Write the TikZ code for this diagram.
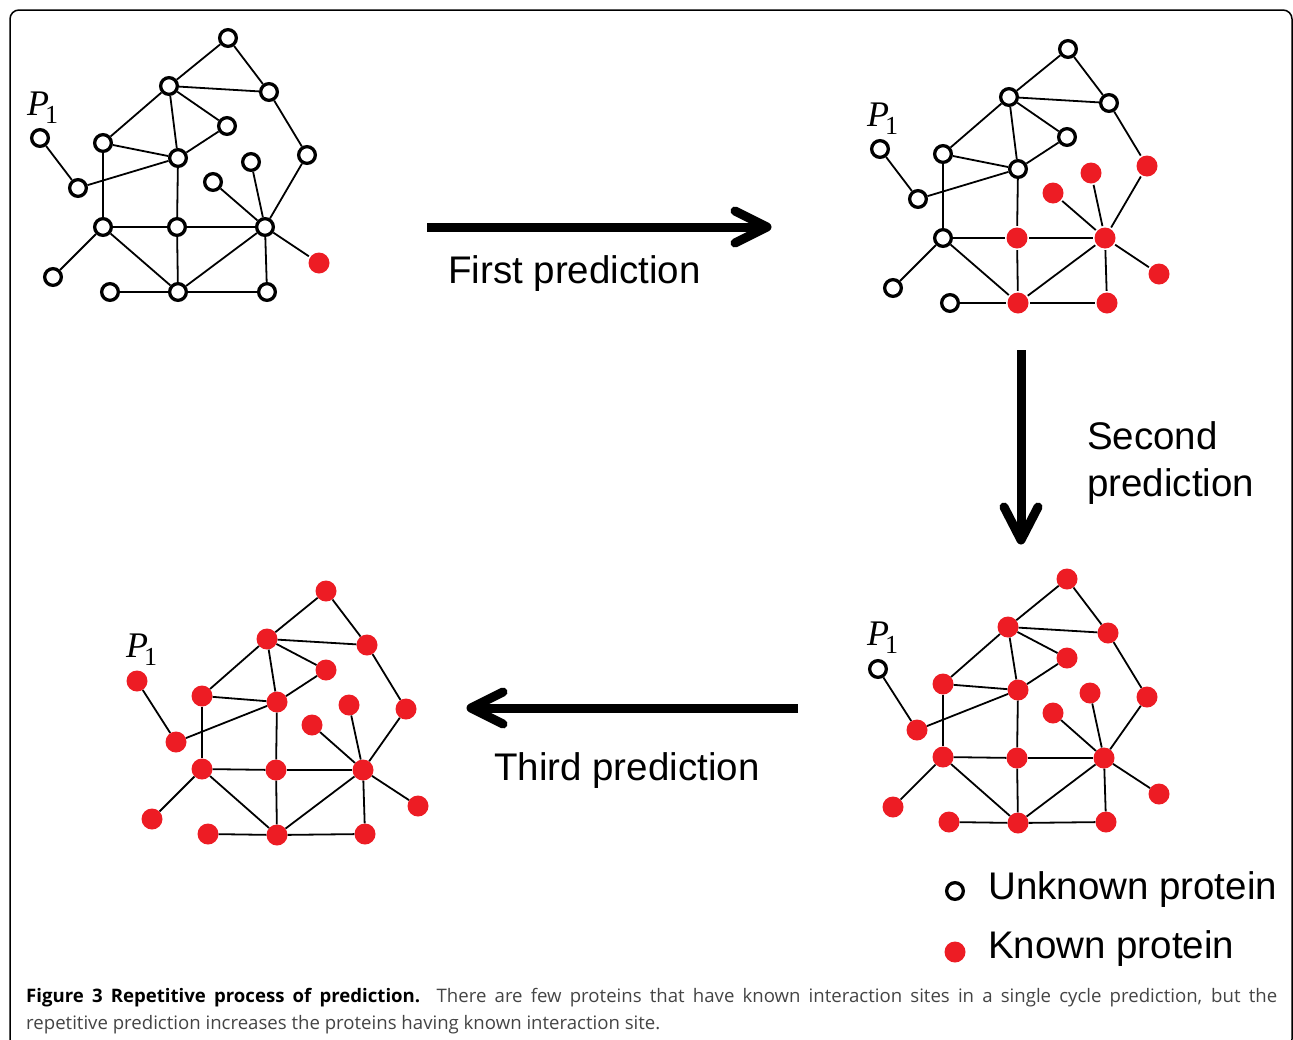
\documentclass[tikz,border=0pt]{standalone}
\usepackage{fontspec}
\setmainfont{Liberation Sans}
\newfontfamily\serifP{Liberation Serif}
\newfontfamily\capfont{Open Sans}
\definecolor{pred}{RGB}{237,28,36}
\definecolor{capgray}{RGB}{68,68,68}
\tikzset{
 unk/.style={circle,draw=black,fill=white,line width=3.3pt,inner sep=0pt,minimum size=16.7pt},
 known/.style={circle,draw=none,fill=pred,inner sep=0pt,minimum size=21pt},
 prot/.style={unk,kn#1/.try},
 edge/.style={line width=1.8pt,black},
 shaft/.style={line width=9pt},
 barb/.style={line width=9pt,line cap=round,line join=round},
 lbl/.style={font=\fontsize{38.5}{46}\selectfont,anchor=base west,inner sep=0pt},
 plab/.style={anchor=base west,inner sep=0pt},
 captxt/.style={anchor=base west,inner sep=0pt,font=\capfont\fontsize{18.6}{27}\selectfont,text=capgray}
}
\def\laytop{A/125/-189,B/66/-141,C/166/-135,D/124/-101,E/0/-84,F/75/-69,G/204/-72,H/148/-65,I/110/-45,P/-63/-89,J/-25/-39,K/0/0,L/74/0,M/162/0,N/-50/50,O/7/65,Q/75/65,R/164/65,S/216/36}
\def\laybot{A/124/-178,B/65/-130,C/165/-124,D/124/-99,E/0/-73,F/75/-67,G/204/-60,H/147/-64,I/110/-44,P/-65/-88,J/-26/-27,K/0/0,L/74/1,M/161/1,N/-50/50,O/6/65,Q/75/66,R/163/65,S/216/37}
\newcommand\protnet[2]{%
 \foreach \n/\x/\y in #2 {\node[prot/.expanded=\n] (#1\n) at (\x,\y) {};}
 \foreach \a/\b in {A/B,A/C,B/C,B/D,B/E,B/F,D/F,E/F,E/K,F/J,F/L,P/J,C/G,G/M,H/M,I/M,K/L,K/N,K/Q,L/M,L/Q,M/Q,M/R,M/S,O/Q,Q/R}
  {\draw[edge] (#1\a) -- (#1\b);}
 \node[plab] (#1lab) at (-76,-112) {{\fontsize{36}{36}\serifP\itshape\selectfont P}\kern-4pt\raisebox{-8pt}{\fontsize{26}{26}\serifP\selectfont 1}};
}
\begin{document}
\begin{tikzpicture}[x=1pt,y=-1pt]
\useasboundingbox (0,0) rectangle (1293,1039);
\draw[line width=1.5pt,rounded corners=9pt] (10,10) rectangle (1292,1048);
% graphs
\begin{scope}[shift={(103,227)},knS/.style=known]
 \protnet{ga}{\laytop}
\end{scope}
\begin{scope}[shift={(943,238)},knG/.style=known,knH/.style=known,knI/.style=known,knL/.style=known,knM/.style=known,knQ/.style=known,knR/.style=known,knS/.style=known]
 \protnet{gb}{\laytop}
\end{scope}
\begin{scope}[shift={(943,757)},prot/.style={known,kn#1/.try},knP/.style=unk]
 \protnet{gc}{\laybot}
\end{scope}
\begin{scope}[shift={(202,769)},prot/.style={known}]
 \protnet{gd}{\laybot}
\end{scope}
% arrows
\coordinate (a1s) at (427,227); \coordinate (a1e) at (767,227);
\draw[shaft] (a1s) -- (a1e);
\draw[barb] (a1e) ++(-32,-16) -- (a1e) -- ++(-32,16);
\coordinate (a2s) at (1021,350); \coordinate (a2e) at (1021,540);
\draw[shaft] (a2s) -- (a2e);
\draw[barb] (a2e) ++(-17,-33) -- (a2e) -- ++(17,-33);
\coordinate (a3s) at (798,708); \coordinate (a3e) at (471,708);
\draw[shaft] (a3s) -- (a3e);
\draw[barb] (a3e) ++(32,-16) -- (a3e) -- ++(32,16);
% labels
\node[lbl] (t1) at (448,283) {First prediction};
\node[lbl] (t2a) at (1087,449) {Second};
\node[lbl] (t2b) at (1087,496) {prediction};
\node[lbl] (t3) at (494,780) {Third prediction};
% legend
\node[unk] (lu) at (955,891) {};
\node[known] (lk) at (955,952) {};
\node[lbl] (lut) at (988,899) {Unknown protein};
\node[lbl] (lkt) at (988,958) {Known protein};
% caption
\node[captxt] (cap1) at (26,1002)
 {\makebox[1251pt][s]{\textcolor{black}{\bfseries Figure 3 Repetitive process of prediction.} There are few proteins that have known interaction sites in a single cycle prediction, but the}};
\node[captxt] (cap2) at (26,1029)
 {repetitive prediction increases the proteins having known interaction site.};
\end{tikzpicture}
\end{document}
